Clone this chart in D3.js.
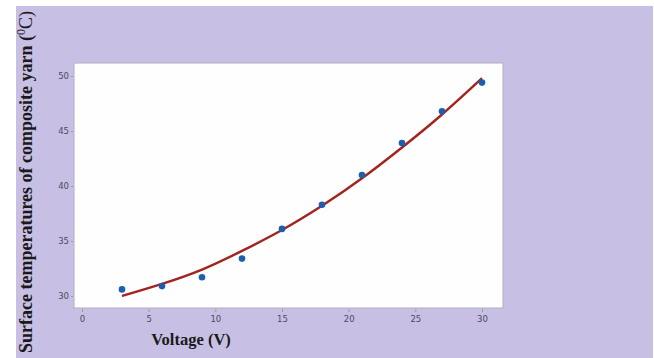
<!DOCTYPE html>
<html>
<head>
<meta charset="utf-8">
<script src="https://cdn.jsdelivr.net/npm/d3@7"></script>
<style>
  body { margin: 0; background: #fff; }
  #chart svg { display: block; }
</style>
</head>
<body>
<div id="chart"></div>
<script>
// measured points, voltage vs surface temperature
const voltage = [3, 6, 9, 12, 15, 18, 21, 24, 27, 30];
const temperature = [30.6, 30.9, 31.7, 33.4, 36.1, 38.3, 41.0, 43.9, 46.8, 49.4];
// fitted curve at the same voltages
const fitted = [30.0, 31.1, 32.4, 34.1, 36.0, 38.2, 40.7, 43.5, 46.5, 49.8];
const xTicks = [0, 5, 10, 15, 20, 25, 30];
const yTicks = [30, 35, 40, 45, 50];

const width = 654, height = 358;
const plot = { left: 74, top: 63, right: 503, bottom: 308 };

const svg = d3.select("#chart").append("svg")
  .attr("width", width)
  .attr("height", height);

// purple page background
svg.append("rect")
  .attr("x", 16).attr("y", 6)
  .attr("width", width - 17).attr("height", height - 6)
  .attr("fill", "#c8bfe5");

// white plot panel
svg.append("rect")
  .attr("x", plot.left).attr("y", plot.top)
  .attr("width", plot.right - plot.left).attr("height", plot.bottom - plot.top)
  .attr("fill", "#fefefe")
  .attr("stroke", "#b9b6c4")
  .attr("stroke-width", 1.2);

const xScale = d3.scaleLinear().domain([0, 30]).range([82, 482]);
const yScale = d3.scaleLinear().domain([30, 50]).range([296, 76]);

// axes (Minitab style, ticks sit outside the frame)
const xAxis = svg.append("g")
  .attr("transform", `translate(0,${plot.bottom + 1})`)
  .call(d3.axisBottom(xScale).tickValues(xTicks).tickSize(3).tickPadding(4));
xAxis.select(".domain").remove();

const yAxis = svg.append("g")
  .attr("transform", `translate(${plot.left - 1},0)`)
  .call(d3.axisLeft(yScale).tickValues(yTicks).tickSize(2).tickPadding(2));
yAxis.select(".domain").remove();

svg.selectAll(".tick line").attr("stroke", "#9a98a8");
svg.selectAll(".tick text")
  .attr("fill", "#4d4b57")
  .style("font-family", "'DejaVu Sans', sans-serif")
  .style("font-size", "8.5px");

// fitted curve
const fitLine = d3.line()
  .x((d, i) => xScale(voltage[i]))
  .y(d => yScale(d))
  .curve(d3.curveNatural);

svg.append("path")
  .datum(fitted)
  .attr("d", fitLine)
  .attr("fill", "none")
  .attr("stroke", "#a3231f")
  .attr("stroke-width", 2.4);

// measured points
svg.selectAll(".point")
  .data(temperature)
  .enter()
  .append("circle")
  .attr("class", "point")
  .attr("cx", (d, i) => xScale(voltage[i]))
  .attr("cy", d => yScale(d))
  .attr("r", 3.3)
  .attr("fill", "#1d5fae");

// axis titles
svg.append("text")
  .attr("x", 191).attr("y", 345)
  .attr("text-anchor", "middle")
  .style("font-family", "'Liberation Serif', 'Times New Roman', serif")
  .style("font-weight", "bold")
  .style("font-size", "16.5px")
  .attr("fill", "#1a1a1a")
  .text("Voltage (V)");

const yTitle = svg.append("text")
  .attr("transform", "translate(32,182) rotate(-90)")
  .attr("text-anchor", "middle")
  .style("font-family", "'Liberation Serif', 'Times New Roman', serif")
  .style("font-weight", "bold")
  .style("font-size", "18px")
  .attr("fill", "#1a1a1a");
yTitle.append("tspan").text("Surface temperatures of composite yarn (");
yTitle.append("tspan").attr("dy", -7).style("font-size", "12px").style("font-weight", "normal").text("0");
yTitle.append("tspan").attr("dy", 7).style("font-weight", "normal").text("C)");
</script>
</body>
</html>
